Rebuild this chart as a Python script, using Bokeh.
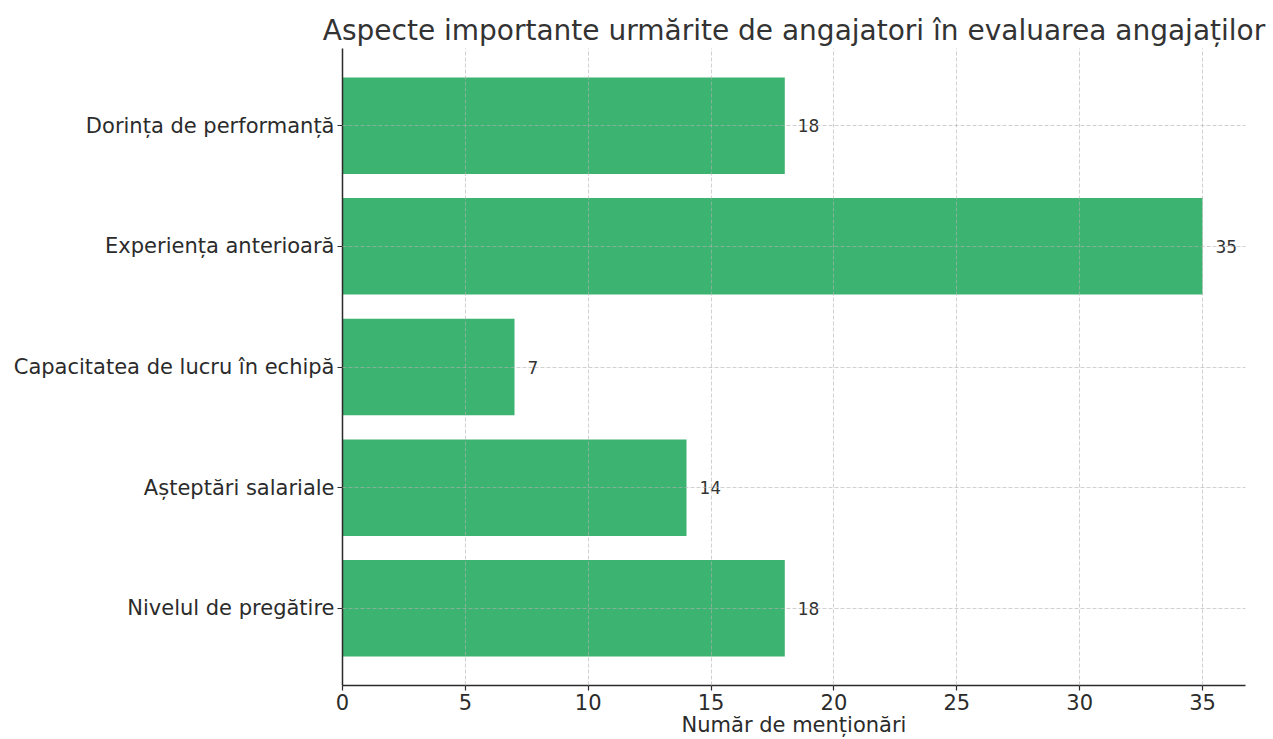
from bokeh.plotting import figure
from bokeh.models import Range1d, FixedTicker, ColumnDataSource, Title
from bokeh.core.properties import value
from bokeh.embed import file_html
from bokeh.resources import INLINE

# Aspects listed bottom-to-top, with number of mentions
aspects = [
    "Nivelul de pregătire",
    "Așteptări salariale",
    "Capacitatea de lucru în echipă",
    "Experiența anterioară",
    "Dorința de performanță",
]
mentions = [18, 14, 7, 35, 18]
x_ticks = [0, 5, 10, 15, 20, 25, 30, 35]

FONT = "DejaVu Sans"
TEXT = "#2b2b2b"

positions = list(range(len(aspects)))
src = ColumnDataSource(dict(
    y=positions,
    v=mentions,
    lbl=[str(m) for m in mentions],
))

p = figure(
    frame_width=903, frame_height=637,
    min_border_left=342, min_border_right=28,
    min_border_top=48, min_border_bottom=54,
    x_range=Range1d(0, max(mentions) * 1.05),
    y_range=Range1d(-0.64, len(aspects) - 1 + 0.64),
    output_backend="svg", toolbar_location=None,
    background_fill_color="white", border_fill_color="white",
)
p.outline_line_color = None

p.title = Title(
    text="Aspecte importante urmărite de angajatori în evaluarea angajaților",
    align="center", text_font=FONT, text_font_size="28px",
    text_font_style="normal", text_color="#333333", offset=0, standoff=4,
)

p.hbar(y="y", left=0, right="v", height=0.8, source=src,
       fill_color="#3CB371", line_color=None)

p.text(x="v", y="y", text="lbl", source=src, x_offset=13,
       text_baseline="middle", text_align="left",
       text_font=value(FONT), text_font_size="17px", text_color="#333333")

# axes
p.xaxis.ticker = FixedTicker(ticks=x_ticks)
p.yaxis.ticker = FixedTicker(ticks=positions)
p.yaxis.major_label_overrides = {i: a for i, a in enumerate(aspects)}
p.xaxis.axis_label = "Număr de menționări"

for ax in (p.xaxis[0], p.yaxis[0]):
    ax.axis_line_color = TEXT
    ax.axis_line_width = 1.5
    ax.major_tick_line_color = TEXT
    ax.major_tick_line_width = 1.2
    ax.major_tick_out = 5
    ax.major_tick_in = 0
    ax.minor_tick_line_color = None
    ax.major_label_text_font = FONT
    ax.major_label_text_font_size = "21px"
    ax.major_label_text_color = TEXT
    ax.major_label_standoff = 3
    ax.axis_label_text_font = FONT
    ax.axis_label_text_font_size = "21px"
    ax.axis_label_text_font_style = "normal"
    ax.axis_label_text_color = TEXT
    ax.axis_label_standoff = 0

# dashed grid drawn over the bars
for g in (p.xgrid[0], p.ygrid[0]):
    g.grid_line_color = "#b0b0b0"
    g.grid_line_alpha = 0.6
    g.grid_line_dash = "4 2"
    g.grid_line_width = 1
    g.level = "overlay"

open("out.html", "w").write(file_html(p, INLINE))
